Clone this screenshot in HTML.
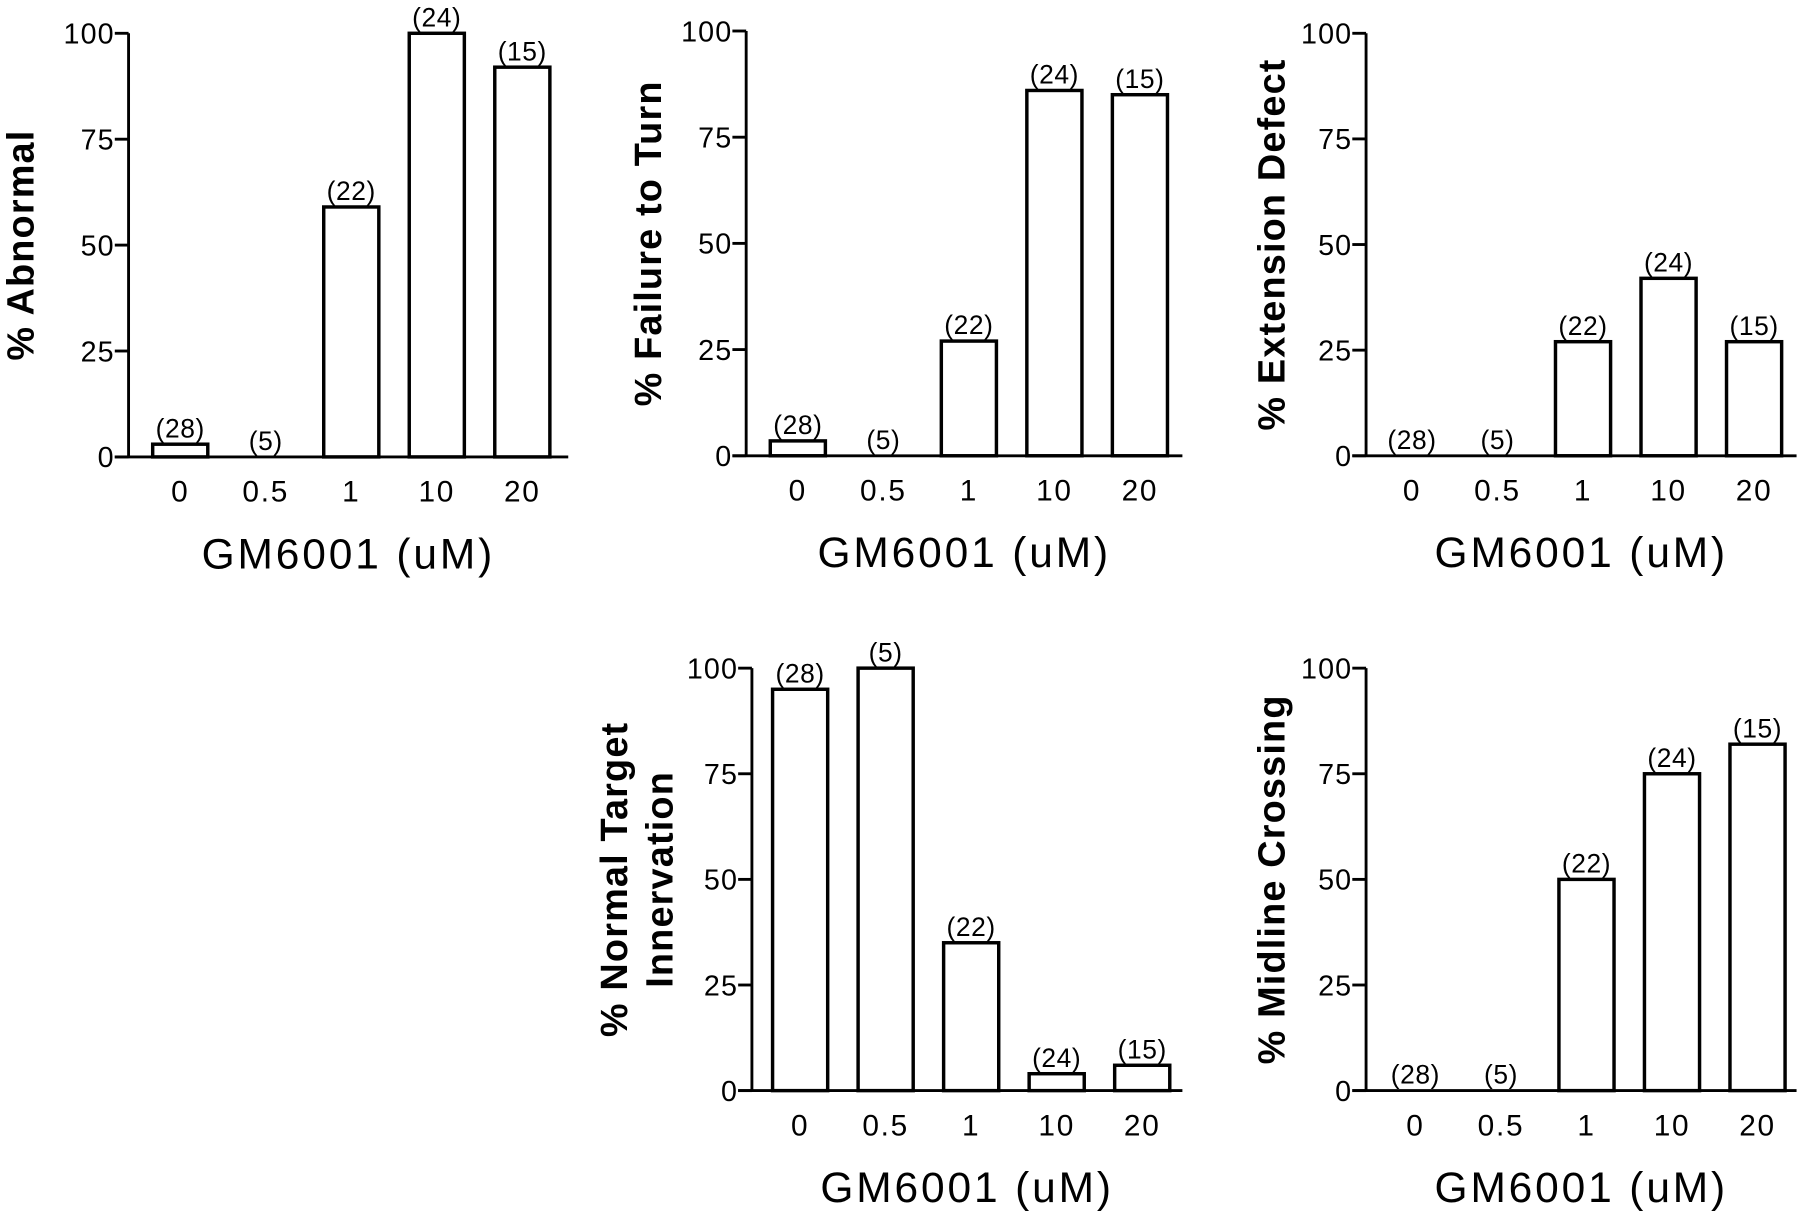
<!DOCTYPE html>
<html><head><meta charset="utf-8"><style>
html,body{margin:0;padding:0;background:#fff;}
svg{display:block;}
text{font-family:"Liberation Sans",sans-serif;fill:#000;}
</style></head><body>
<svg id="fig" width="1800" height="1213" viewBox="0 0 1568 1056.6" preserveAspectRatio="none"></svg>
<script>
const categories = ["0","0.5","1","10","20"];
const nLabels = ["(28)","(5)","(22)","(24)","(15)"];
const yTicks = [0,25,50,75,100];
const abnormal = [3,0,59,100,92];
const failureToTurn = [3.5,0,27,86,85];
const extensionDefect = [0,0,27,42,27];
const normalTarget = [95,100,35,4,6];
const midlineCrossing = [0,0,50,75,82];

const panels = [
 {name:"abnormal",vals:abnormal,ax:112,y0:398,y100:29,first:45,end:495,lab:["% Abnormal"],lx:16},
 {name:"failure-to-turn",vals:failureToTurn,ax:650,y0:397,y100:27,first:45,end:1030,lab:["% Failure to Turn"],lx:563},
 {name:"extension-defect",vals:extensionDefect,ax:1190,y0:397,y100:29,first:40,end:1565,lab:["% Extension Defect"],lx:1106},
 {name:"normal-target",vals:normalTarget,ax:655,y0:950,y100:582,first:42,end:1030,lab:["% Normal Target","Innervation"],lx:533},
 {name:"midline-crossing",vals:midlineCrossing,ax:1190,y0:950,y100:582,first:43,end:1565,lab:["% Midline Crossing"],lx:1106}
];
const NS="http://www.w3.org/2000/svg";
const svg=document.getElementById('fig');
function mk(tag,attrs,parent,txt){const e=document.createElementNS(NS,tag);for(const k in attrs)e.setAttribute(k,attrs[k]);if(txt!==undefined)e.textContent=txt;parent.appendChild(e);return e;}
const step=74.5,bw=48;
panels.forEach(p=>{
 const g=mk('g',{},svg);
 
 
 const y=v=>p.y0-(p.y0-p.y100)*v/100;
 const x=i=>p.ax+p.first+i*step;
 const ya=mk('line',{x1:p.ax,x2:p.ax,y1:p.y0,y2:p.y100,stroke:'#000','stroke-width':2.5},g);
 
 
 const xa=mk('line',{x1:p.ax-12,x2:p.end,y1:p.y0,y2:p.y0,stroke:'#000','stroke-width':2.5},g);
 
 
 yTicks.forEach(t=>{
  mk('line',{x1:p.ax-12,x2:p.ax,y1:y(t),y2:y(t),stroke:'#000','stroke-width':2.5},g);
  const tl=mk('text',{x:p.ax-12,y:y(t)+9,'text-anchor':'end','font-size':25,'letter-spacing':1},g,String(t));
  
  
 });
 categories.forEach((c,i)=>{
  const v=p.vals[i];
  if(v>0){
   const r=mk('rect',{x:x(i)-bw/2,y:y(v),width:bw,height:p.y0-y(v),fill:'#fff',stroke:'#000','stroke-width':3},g);
   
   
  }
  const nl=mk('text',{x:x(i),y:y(v)-6,'text-anchor':'middle','font-size':23,'letter-spacing':0.5},g,nLabels[i]);
  
  
  const tl=mk('text',{x:x(i),y:p.y0+39,'text-anchor':'middle','font-size':26,'letter-spacing':1.5},g,c);
  
  
 });
 const xt=mk('text',{x:(p.ax+p.end)/2,y:p.y0+97,'text-anchor':'middle','font-size':37,'letter-spacing':2.5},g,'GM6001 (uM)');
 
 
 const cy=(p.y0+p.y100)/2;
 p.lab.forEach((l,k)=>{
  const lx=p.lx+k*40+13;
  const yt=mk('text',{x:lx,y:cy,'text-anchor':'middle','font-size':33,'font-weight':'bold','letter-spacing':1,transform:`rotate(-90 ${lx} ${cy})`},g,l);
  
  
 });
});
</script>
</body></html>
